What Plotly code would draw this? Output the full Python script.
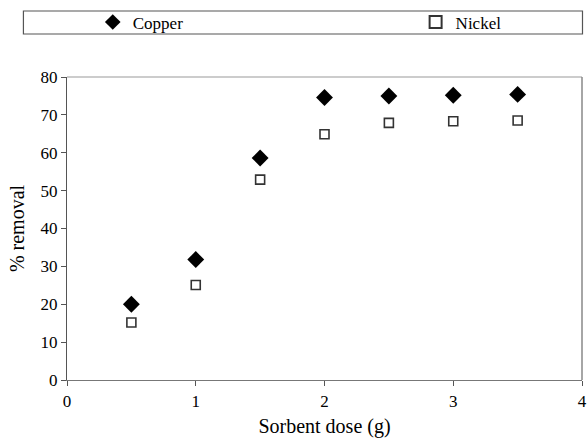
import plotly.graph_objects as go

dose = [0.5, 1.0, 1.5, 2.0, 2.5, 3.0, 3.5]
copper = [20.0, 31.8, 58.6, 74.6, 75.0, 75.2, 75.4]
nickel = [15.2, 25.1, 52.9, 64.9, 67.9, 68.3, 68.5]
x_ticks = [0, 1, 2, 3, 4]
y_ticks = [0, 10, 20, 30, 40, 50, 60, 70, 80]

FONT = "Liberation Serif"

fig = go.Figure()
fig.add_trace(go.Scatter(
    x=dose, y=copper, mode="markers", name="Copper", legend="legend",
    marker=dict(symbol="diamond", size=13, color="black", line=dict(width=0)),
))
fig.add_trace(go.Scatter(
    x=dose, y=nickel, mode="markers", name="Nickel", legend="legend2",
    marker=dict(symbol="square-open", size=9, color="#333", line=dict(width=1.6, color="#333")),
))

# frame lines on top and right
fig.add_shape(type="line", xref="paper", yref="paper", x0=0, x1=1, y0=1, y1=1,
              line=dict(color="#999", width=1))
fig.add_shape(type="line", xref="paper", yref="paper", x0=1, x1=1, y0=0, y1=1,
              line=dict(color="#888", width=1.5))
# legend box
fig.add_shape(type="rect", xref="paper", yref="paper",
              x0=(23 - 67) / 520, x1=(587.5 - 67) / 520,
              y0=(380 - 34) / 303, y1=(380 - 11) / 303,
              line=dict(color="#555", width=1.2), fillcolor="white", layer="below")

leg_common = dict(
    orientation="h", xanchor="left",
    y=(380 - 22.5) / 303, yanchor="middle",
    font=dict(family=FONT, size=17, color="black"),
    bgcolor="rgba(0,0,0,0)", borderwidth=0,
    itemsizing="constant",
)

fig.update_layout(
    width=588, height=438,
    margin=dict(l=67, r=1, t=77, b=58),
    paper_bgcolor="white", plot_bgcolor="white",
    font=dict(family=FONT, color="black", size=16),
    showlegend=True,
    legend=dict(x=(93 - 67) / 520, **leg_common),
    legend2=dict(x=(419 - 67) / 520, **leg_common),
    xaxis=dict(
        range=[0, 4], tickvals=x_ticks, ticktext=[str(v) for v in x_ticks],
        showgrid=False, zeroline=False, showline=True, linecolor="#777", linewidth=1.2,
        ticks="outside", ticklen=5, tickcolor="#555", tickwidth=1,
        ticklabeloverflow="allow",
        tickfont=dict(family=FONT, size=17, color="black"),
        title=dict(text="Sorbent dose (g)", font=dict(family=FONT, size=20, color="black"), standoff=11),
    ),
    yaxis=dict(
        range=[0, 80], tickvals=y_ticks, ticktext=[str(v) for v in y_ticks],
        showgrid=False, zeroline=False, showline=True, linecolor="#555", linewidth=1.2,
        ticks="outside", ticklen=5, tickcolor="#555", tickwidth=1,
        tickfont=dict(family=FONT, size=17, color="black"),
        title=dict(text="% removal", font=dict(family=FONT, size=20, color="black"), standoff=10),
    ),
)

fig.write_html("out.html")
